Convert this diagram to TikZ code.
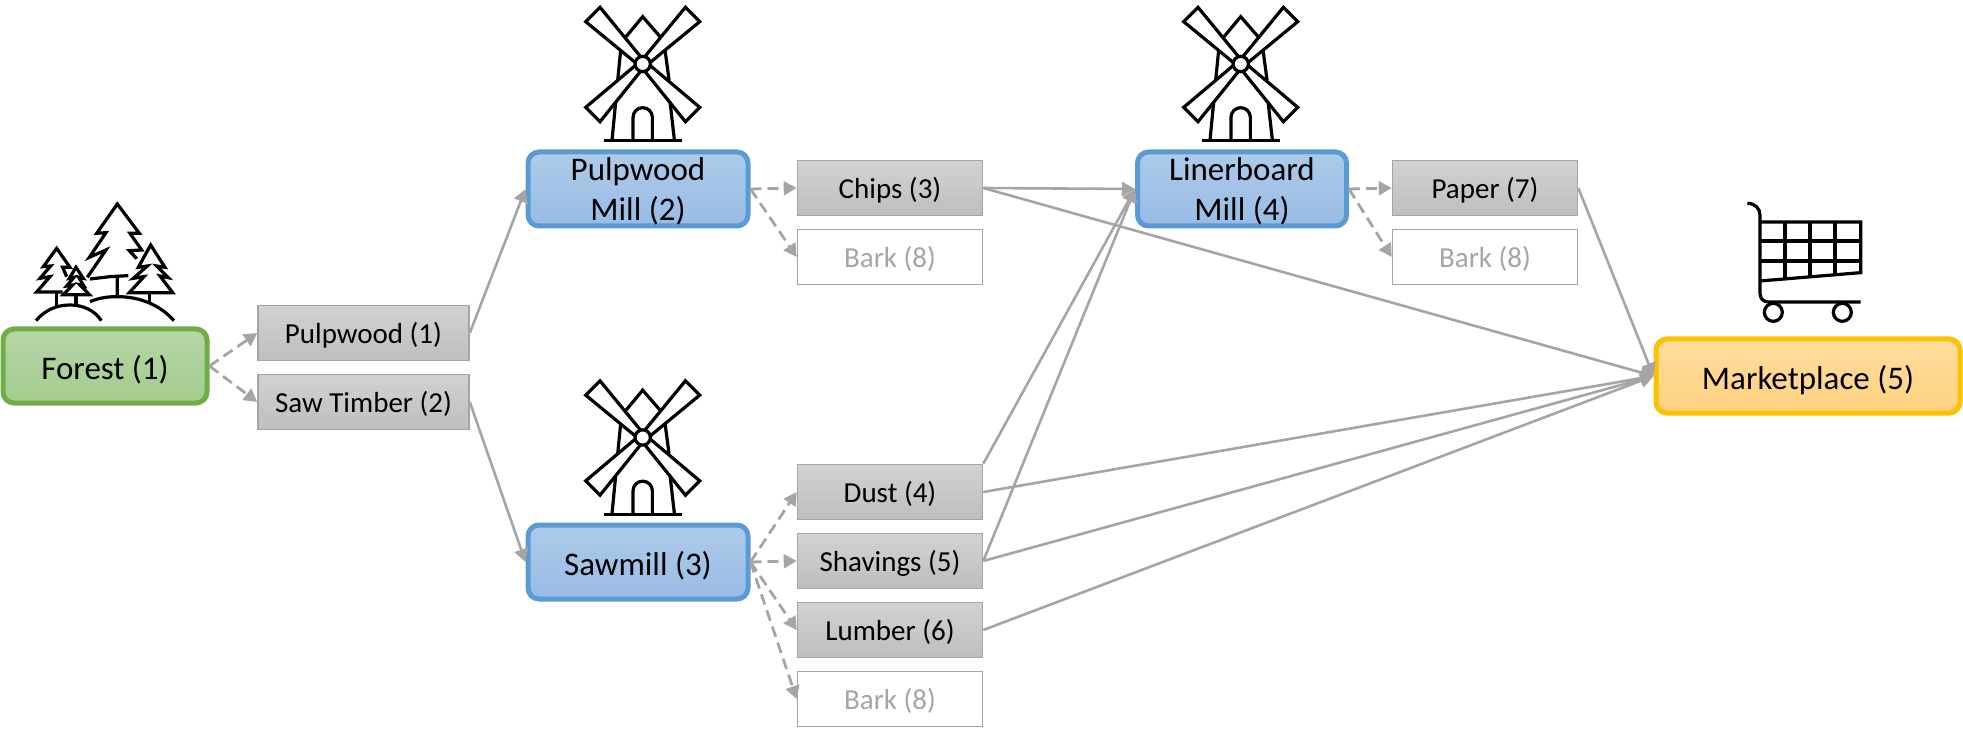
\documentclass[tikz,border=0pt]{standalone}
\usepackage{fontspec}
\setmainfont{Carlito}
\usetikzlibrary{arrows.meta}
\definecolor{cg}{HTML}{70AD47}\definecolor{cb}{HTML}{5B9BD5}\definecolor{cy}{HTML}{FFC000}
\definecolor{cl}{HTML}{A5A5A5}
\definecolor{gt}{HTML}{B5D6A7}\definecolor{gb}{HTML}{A3CC8E}
\definecolor{bt}{HTML}{ADCBEA}\definecolor{bbm}{HTML}{99BCE5}
\definecolor{yt}{HTML}{FFDD9C}\definecolor{ybm}{HTML}{FFD27F}
\tikzset{
 big/.style={rounded corners=11pt,line width=5pt,inner sep=0pt,minimum height=74pt,align=center,
   font=\fontsize{33}{40}\selectfont,text=black},
 lowtext/.style={text height=32pt,text depth=5.6pt},
 greenbox/.style={big,draw=cg,top color=gt,bottom color=gb,minimum width=204pt},
 bluebox/.style={big,draw=cb,top color=bt,bottom color=bbm,minimum width=220pt},
 yellowbox/.style={big,draw=cy,top color=yt,bottom color=ybm,minimum width=304pt},
 smallbox/.style={draw=cl,line width=1.6pt,inner sep=0pt,minimum width=185pt,minimum height=55pt,
   font=\fontsize{29}{34}\selectfont,text height=27pt,text depth=6.6pt},
 graybox/.style={smallbox,top color=cl!50!white,bottom color=cl!72!white,text=black},
 barkbox/.style={smallbox,fill=white,text=cl},
 dashlink/.style={draw=cl,line width=2.8pt,dash pattern=on 11pt off 6pt,-{Triangle[length=13pt,width=14pt]}},
 link/.style={draw=cl,line width=2.6pt,-{Triangle[length=13pt,width=14pt]}},
 ico/.style={line width=3.2pt,black,line join=miter},
 mill/.pic={
  \begin{scope}[x=0.3333pt,y=-0.3333pt]
  \draw[ico] (-50,-82)--(0,-142)--(52,-82);
  \draw[ico] (-66,-42)--(-75,48) (67,-42)--(79,48) (-81,113)--(-92,228) (82,113)--(95,228);
  \draw[ico] (-116,230)--(118,230);
  \draw[ico] (-29,228)--(-29,160) arc[start angle=180,end angle=360,x radius=29,y radius=29]--(29,228);
  \draw[ico] (-8,-24)--(-128,-170)--(-171,-127)--(-24,-6);
  \draw[ico] (8,-24)--(128,-170)--(171,-127)--(24,-6);
  \draw[ico] (-8,24)--(-128,173)--(-171,130)--(-24,6);
  \draw[ico] (8,24)--(128,173)--(171,130)--(24,6);
  \draw[ico,fill=white] (0,0) circle[radius=23];
  \end{scope}}
}
\begin{document}
\begin{tikzpicture}[x=1pt,y=-1pt]
\useasboundingbox (0,0) rectangle (1963,735);
\node[greenbox,lowtext] (forest) at (105,366) {Forest (1)};
\node[graybox,minimum width=211pt] (pulp) at (363.5,333) {Pulpwood (1)};
\node[graybox,minimum width=211pt] (saw) at (363.5,402) {Saw Timber (2)};
\node[bluebox] (pmill) at (638,189) {\rule{0pt}{27pt}Pulpwood\\Mill (2)};
\node[bluebox,lowtext] (smill) at (638,562) {Sawmill (3)};
\node[graybox] (chips) at (890,188) {Chips (3)};
\node[barkbox] (bark1) at (890,257) {Bark (8)};
\node[graybox] (dust) at (890,492) {Dust (4)};
\node[graybox] (shav) at (890,561) {Shavings (5)};
\node[graybox] (lumb) at (890,630) {Lumber (6)};
\node[barkbox] (bark2) at (890,699) {Bark (8)};
\node[bluebox,minimum width=209pt] (lmill) at (1242,189) {\rule{0pt}{27pt}Linerboard\\Mill (4)};
\node[graybox] (paper) at (1485,188) {Paper (7)};
\node[barkbox] (bark3) at (1485,257) {Bark (8)};
\node[yellowbox,lowtext] (market) at (1808,376) {Marketplace (5)};
% icons
\pic at (642.7,64) {mill};
\pic at (1240.7,64) {mill};
\pic at (642.7,437.5) {mill};
\begin{scope}[shift={(1650,180)},x=0.3333pt,y=-0.3333pt]
 \draw[ico,line cap=butt] (292,70) .. controls (315,70) and (330,85) .. (330,105) -- (330,340) .. controls (330,355) and (340,366) .. (355,366) -- (632,366);
 \draw[ico] (330,126)--(632,126)--(632,278)--(330,303);
 \draw[ico] (330,183)--(632,183) (330,243)--(632,243);
 \draw[ico] (405,126)--(405,297) (480,126)--(480,291) (555,126)--(555,284);
 \draw[ico] (370,397) circle[radius=27] (577,397) circle[radius=27];
\end{scope}
\begin{scope}[shift={(0,180)},x=0.3333pt,y=-0.3333pt]
 % hills
 \draw[ico] (108,422) .. controls (135,390) and (170,375) .. (210,375) .. controls (250,375) and (285,392) .. (304,422);
 \draw[ico] (270,365) .. controls (300,352) and (330,350) .. (352,350) .. controls (420,350) and (480,375) .. (522,422);
 % big tree
 \draw[ico] (262,292)--(318,210)--(268,232)--(318,158)--(290,160)--(352,72)--(418,160)--(390,160)--(425,210)--(388,212)--(410,236);
 \draw[ico] (270,297)--(330,290)--(385,287) (352,287)--(352,350);
 % right tree
 \draw[ico] (388,338)--(432,290)--(400,295)--(442,258)--(415,262)--(452,195)--(495,262)--(470,258)--(505,293)--(480,288)--(518,338)--cycle;
 \draw[ico] (448,338)--(448,372);
 % left tree
 \draw[ico] (188,336)--(110,336)--(150,290)--(120,295)--(152,258)--(130,260)--(170,205)--(210,262)--(188,262)--(200,290);
 \draw[ico] (170,336)--(170,378);
 % small tree
 \draw[ico,fill=white] (190,344)--(218,315)--(200,318)--(222,292)--(208,295)--(228,262)--(250,295)--(236,292)--(252,318)--(240,315)--(268,344)--cycle;
 \draw[ico] (228,344)--(228,372);
\end{scope}
% connectors
\draw[dashlink] (forest.east) -- (pulp.west);
\draw[dashlink] (forest.east) -- (saw.west);
\draw[dashlink] (pmill.east) -- (chips.west);
\draw[dashlink] (pmill.east) -- (bark1.west);
\draw[dashlink] (smill.east) -- (dust.west);
\draw[dashlink] (smill.east) -- (shav.west);
\draw[dashlink] (smill.east) -- (lumb.west);
\draw[dashlink] (smill.east) -- (bark2.west);
\draw[dashlink] (lmill.east) -- (paper.west);
\draw[dashlink] (lmill.east) -- (bark3.west);
\draw[link] (pulp.east) -- (pmill.west);
\draw[link] (saw.east) -- (smill.west);
\draw[link] (chips.east) -- (lmill.west);
\draw[link] (dust.north east) -- (lmill.west);
\draw[link] (shav.east) -- (lmill.west);
\draw[link] (chips.east) -- (market.west);
\draw[link] (dust.east) -- (market.west);
\draw[link] (shav.east) -- (market.west);
\draw[link] (lumb.east) -- (market.west);
\draw[link] (paper.east) -- (market.west);
\end{tikzpicture}
\end{document}
